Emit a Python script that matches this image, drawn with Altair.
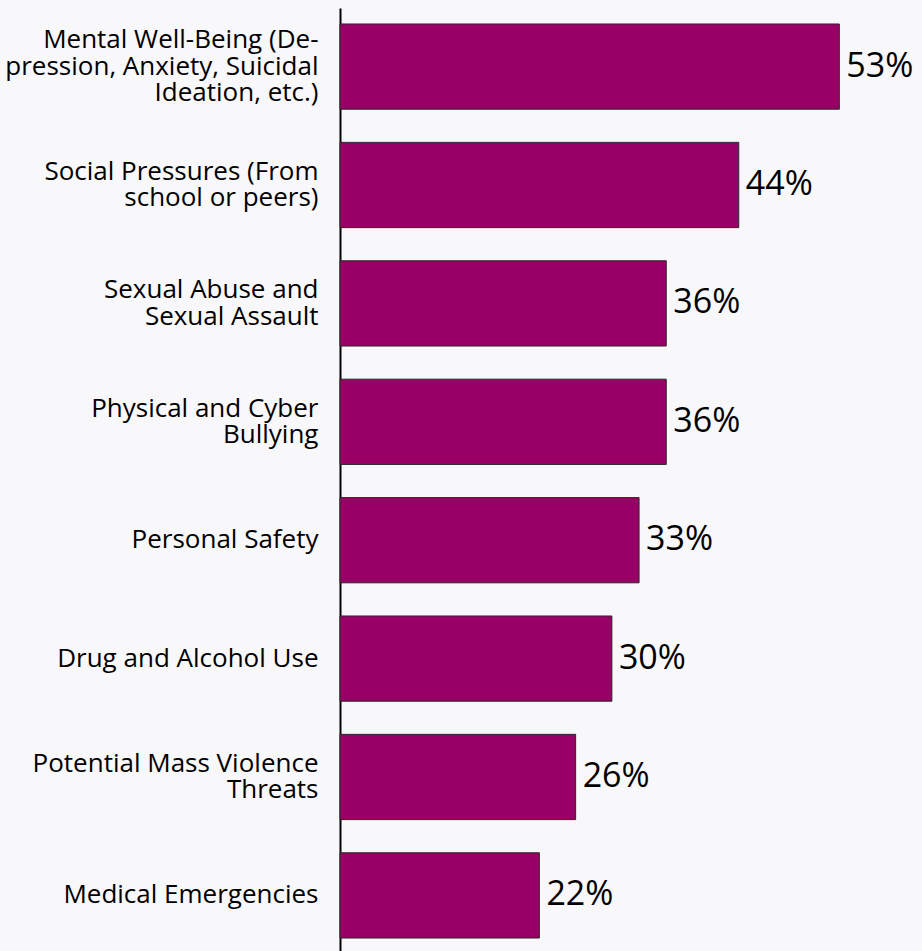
import altair as alt
import pandas as pd

categories = [
    "Mental Well-Being (De-\npression, Anxiety, Suicidal\nIdeation, etc.)",
    "Social Pressures (From\nschool or peers)",
    "Sexual Abuse and\nSexual Assault",
    "Physical and Cyber\nBullying",
    "Personal Safety",
    "Drug and Alcohol Use",
    "Potential Mass Violence\nThreats",
    "Medical Emergencies",
]
bar_values = [55.1, 44, 36, 36, 33, 30, 26, 22]
value_labels = ["53%", "44%", "36%", "36%", "33%", "30%", "26%", "22%"]

df = pd.DataFrame({"cat": categories, "val": bar_values, "lbl": value_labels})

FONT = "Open Sans"
LH = 26.5

y = alt.Y(
    "cat:N",
    sort=None,
    scale=alt.Scale(paddingInner=0.28, paddingOuter=0.135),
    axis=alt.Axis(
        title=None,
        ticks=False,
        grid=False,
        domainColor="#000000",
        domainWidth=2,
        labelExpr="split(datum.label, '\\n')",
        labelFont=FONT,
        labelFontSize=26,
        labelLineHeight=LH,
        labelColor="#000000",
        labelPadding=22,
        labelLimit=0,
        labelAlign="right",
        labelBaseline="middle",
        labelOffset={
            "condition": [
                {"test": "length(split(datum.value, '\\n')) == 3", "value": -LH},
                {"test": "length(split(datum.value, '\\n')) == 2", "value": -LH / 2},
            ],
            "value": 0,
        },
    ),
)
x = alt.X("val:Q", scale=alt.Scale(domain=[0, 64]), axis=None)

bars = alt.Chart(df).mark_bar(
    color="#990066", stroke="#2a2a2a", strokeWidth=1
).encode(x=x, y=y)

texts = alt.Chart(df).mark_text(
    align="left", baseline="middle", dx=7, font=FONT, fontSize=34, color="#000000"
).encode(x=x, y=y, text="lbl:N")

chart = (
    (bars + texts)
    .properties(
        width=580,
        height=946,
        background="#f8f7fa",
        padding={"left": 340, "top": 8, "right": 2, "bottom": 0},
        autosize=alt.AutoSizeParams(type="none"),
    )
    .configure_view(stroke=None)
)

chart.save("out.html", embed_options={"renderer": "svg", "actions": False})
